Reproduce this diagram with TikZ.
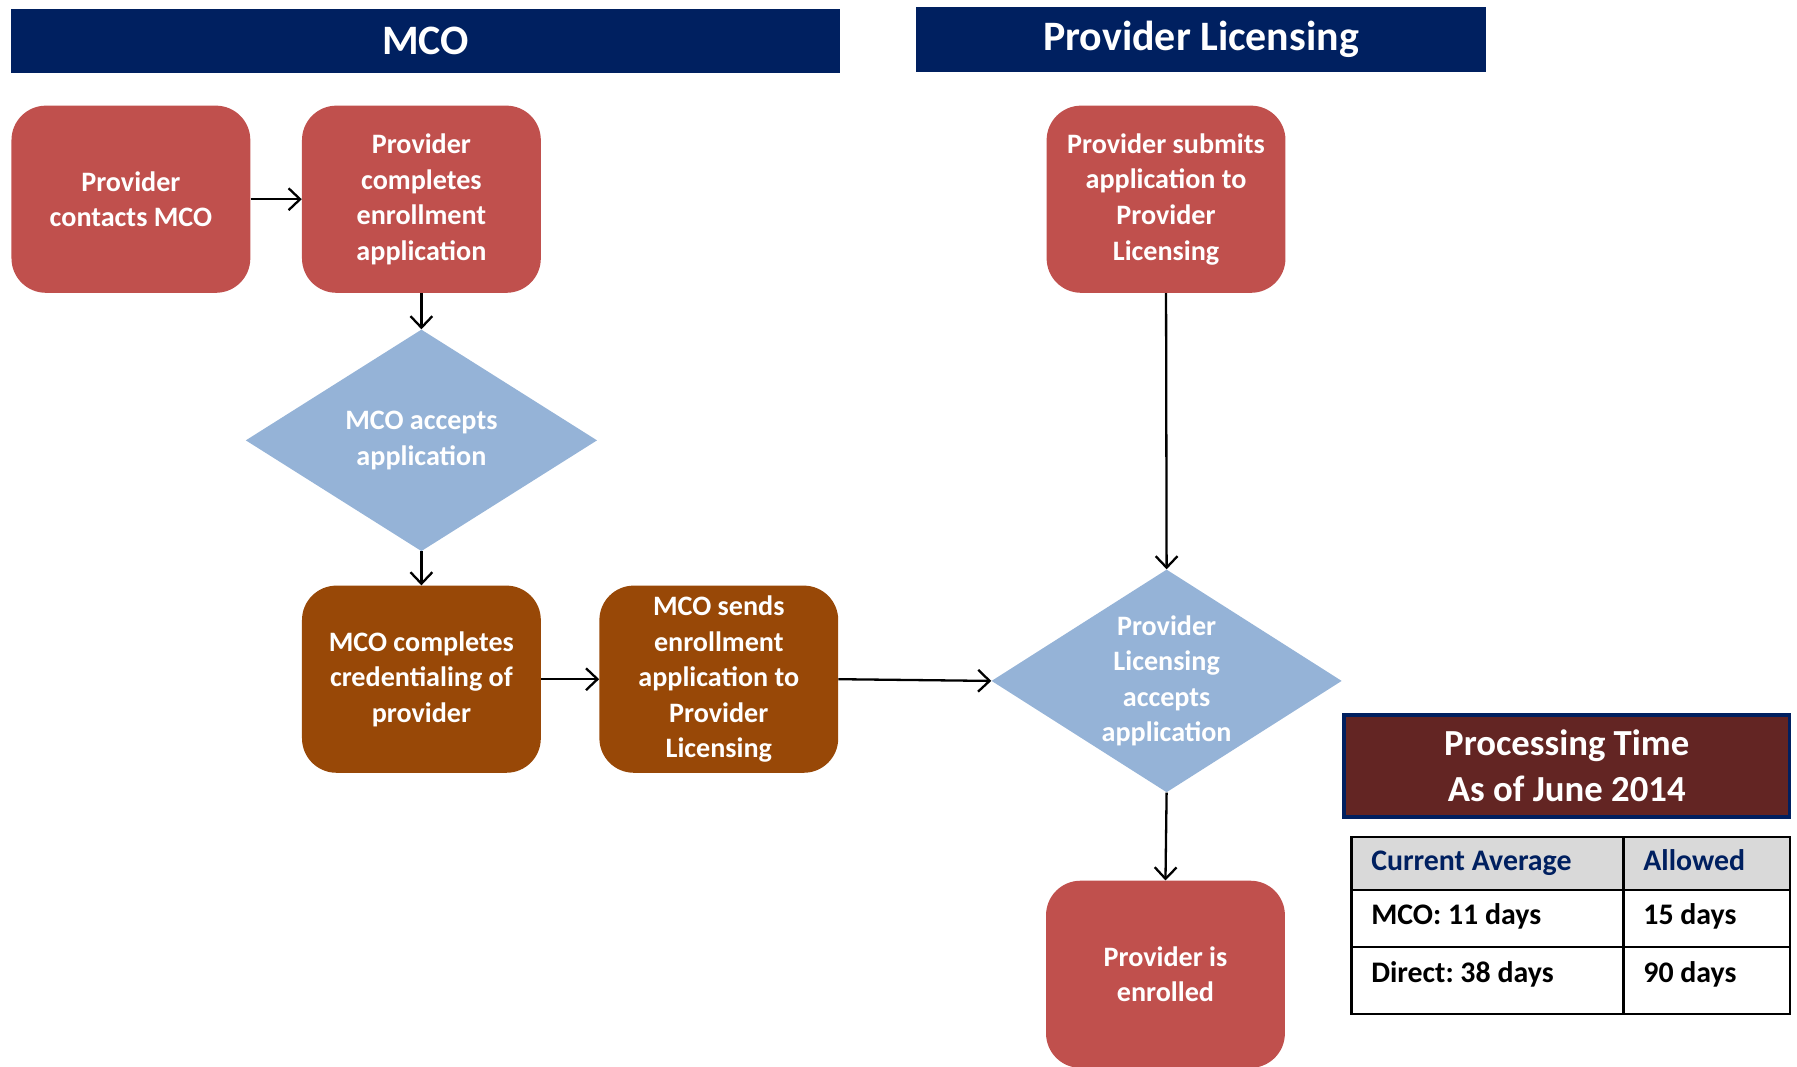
\documentclass[tikz,border=0pt]{standalone}
\usepackage{fontspec}
\setmainfont{Carlito}
\usetikzlibrary{shapes.geometric,arrows.meta}
\definecolor{navy}{HTML}{002060}
\definecolor{boxred}{HTML}{C0504D}
\definecolor{boxbrown}{HTML}{984807}
\definecolor{diablue}{HTML}{95B3D7}
\definecolor{ptred}{HTML}{632523}
\definecolor{hdrgray}{HTML}{D9D9D9}
\frenchspacing
\tikzset{
  header/.style={fill=navy, text=white, minimum height=56pt, inner sep=0pt,
    font=\fontsize{36.5}{42}\selectfont\bfseries},
  procbox/.style={rounded corners=30pt, minimum width=208pt, minimum height=163pt,
    inner sep=0pt, text=white, align=center,
    font=\fontsize{24.5}{31}\selectfont\bfseries},
  redbox/.style={procbox, fill=boxred},
  brownbox/.style={procbox, fill=boxbrown},
  decision/.style={diamond, fill=diablue, inner sep=0pt},
  dtext/.style={text=white, align=center, inner sep=0pt,
    font=\fontsize{24.5}{31}\selectfont\bfseries},
  flow/.style={-{Straight Barb[length=10pt,width=19pt]}, line width=2pt, black},
  cell/.style={draw=black, line width=2pt, inner sep=0pt},
  celltext/.style={anchor=mid west, inner sep=0pt, font=\fontsize{26}{30}\selectfont\bfseries},
}
\begin{document}
\begin{tikzpicture}[x=1pt,y=-1pt]
\useasboundingbox (0,0) rectangle (1565,929);
% headers
\node[header, minimum width=722pt] (hmco) at (370.5,35.5) {MCO};
\node[header, minimum width=497pt] (hpl) at (1046,34.5) {Provider Licensing};
% boxes
\node[redbox] (a) at (114,173.5) {Provider\\contacts MCO};
\node[redbox] (b) at (367,173.5) {Provider\\completes\\enrollment\\application};
\node[redbox] (f) at (1015.5,173.5) {Provider submits\\application to\\Provider\\Licensing};
\node[decision, minimum width=306pt, minimum height=193pt] (c) at (367,383.5) {};
\node[dtext] (ct) at (c.center) {MCO accepts\\application};
\node[brownbox] (d) at (367,591.5) {MCO completes\\credentialing of\\provider};
\node[brownbox] (e) at (626,591.5) {MCO sends\\enrollment\\application to\\Provider\\Licensing};
\node[decision, minimum width=305pt, minimum height=194pt] (g) at (1016,593) {};
\node[dtext] (gt) at (g.center) {Provider\\Licensing\\accepts\\application};
\node[redbox] (h) at (1015,848.5) {Provider is\\enrolled};
% connectors
\draw[flow] (a.east) -- (b.west);
\draw[flow] (b.south) -- (c.north);
\draw[flow] (c.south) -- (d.north);
\draw[flow] (d.east) -- (e.west);
\draw[flow] (e.east) -- (g.west);
\draw[flow] (f.south) -- (g.north);
\draw[flow] (g.south) -- (h.north);
% processing time
\node[fill=ptred, draw=navy, line width=3pt, minimum width=388pt, minimum height=89pt,
  inner sep=0pt, text=white, align=center,
  font=\fontsize{32}{40}\selectfont\bfseries] (pt) at (1364.5,667) {Processing Time\\As of June 2014};
% table
\node[cell, fill=hdrgray, minimum width=237pt, minimum height=46pt] (h1) at (1295.5,752) {};
\node[cell, fill=hdrgray, minimum width=145pt, minimum height=46pt] (h2) at (1486.5,752) {};
\node[cell, minimum width=237pt, minimum height=50pt] (r1a) at (1295.5,800) {};
\node[cell, minimum width=145pt, minimum height=50pt] (r1b) at (1486.5,800) {};
\node[cell, minimum width=237pt, minimum height=58pt] (r2a) at (1295.5,854) {};
\node[cell, minimum width=145pt, minimum height=58pt] (r2b) at (1486.5,854) {};
\node[celltext, text=navy] (t1) at (1194,756) {Current Average};
\node[celltext, text=navy] (t2) at (1431,756) {Allowed};
\node[celltext] (t3) at (1194,803) {MCO: 11 days};
\node[celltext] (t4) at (1431,803) {15 days};
\node[celltext] (t5) at (1194,853) {Direct: 38 days};
\node[celltext] (t6) at (1431,853) {90 days};
\end{tikzpicture}
\end{document}
